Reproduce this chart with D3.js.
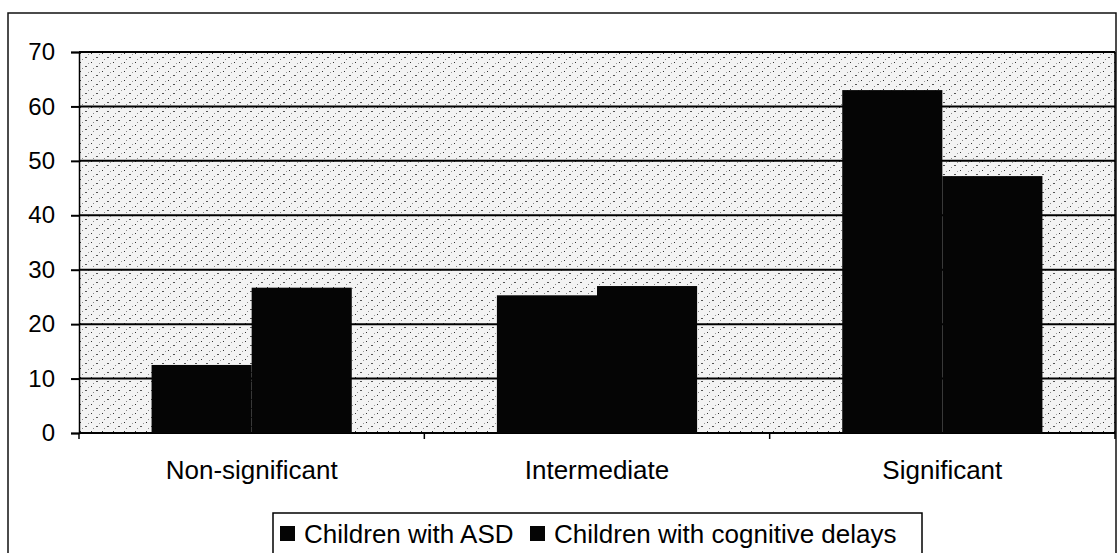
<!DOCTYPE html>
<html>
<head>
<meta charset="utf-8">
<script src="https://cdn.jsdelivr.net/npm/d3@7"></script>
<style>
  body { margin: 0; background: #fff; }
  svg text { font-family: Arial, "Liberation Sans", sans-serif; }
</style>
</head>
<body>
<svg id="chart" width="1118" height="553"></svg>
<script>
const categories = ["Non-significant", "Intermediate", "Significant"];
const seriesNames = ["Children with ASD", "Children with cognitive delays"];
const asdValues = [12.5, 25.3, 63];
const cogValues = [26.7, 27, 47.2];
const yTicks = [0, 10, 20, 30, 40, 50, 60, 70];

const margin = { top: 52, right: 3, bottom: 120, left: 79 };
const width = 1118 - margin.left - margin.right;
const height = 553 - margin.top - margin.bottom;

const svg = d3.select("#chart");

// outer frame
svg.append("rect")
    .attr("x", 8).attr("y", 13)
    .attr("width", 1108).attr("height", 560)
    .attr("fill", "none")
    .attr("stroke", "#111")
    .attr("stroke-width", 1.5);

// stipple pattern for plot area
const defs = svg.append("defs");
const pat = defs.append("pattern")
    .attr("id", "stipple")
    .attr("patternUnits", "userSpaceOnUse")
    .attr("width", 11).attr("height", 9);
pat.append("rect").attr("width", 11).attr("height", 9).attr("fill", "#f3f3f3");
pat.append("rect").attr("x", 1).attr("y", 1).attr("width", 1).attr("height", 1).attr("fill", "#333");
pat.append("rect").attr("x", 6).attr("y", 5).attr("width", 2).attr("height", 1).attr("fill", "#555");
pat.append("rect").attr("x", 9).attr("y", 2).attr("width", 1).attr("height", 1).attr("fill", "#999");
pat.append("rect").attr("x", 3).attr("y", 7).attr("width", 1).attr("height", 1).attr("fill", "#888");

const g = svg.append("g")
    .attr("transform", `translate(${margin.left}, ${margin.top})`);

const x0 = d3.scaleBand()
    .domain(categories)
    .range([0, width])
    .paddingInner(0)
    .paddingOuter(0);

const x1 = d3.scaleBand()
    .domain(seriesNames)
    .range([0, x0.bandwidth()])
    .paddingOuter(0.725)
    .paddingInner(0);

const y = d3.scaleLinear()
    .domain([0, 70])
    .range([height, 0]);

g.append("rect")
    .attr("width", width)
    .attr("height", height)
    .attr("fill", "url(#stipple)");

// gridlines
g.append("g")
    .selectAll("line")
    .data(yTicks)
    .enter().append("line")
    .attr("x1", 0).attr("x2", width)
    .attr("y1", d => y(d)).attr("y2", d => y(d))
    .attr("stroke", "#000")
    .attr("stroke-width", 2);

// right border
g.append("line")
    .attr("x1", width).attr("x2", width)
    .attr("y1", 0).attr("y2", height)
    .attr("stroke", "#000").attr("stroke-width", 1.5);

// bars
const rows = categories.map((c, i) => ({ cat: c, vals: [asdValues[i], cogValues[i]] }));
const grp = g.selectAll(".cat")
    .data(rows)
    .enter().append("g")
    .attr("transform", d => `translate(${x0(d.cat)}, 0)`);

grp.selectAll("rect")
    .data(d => d.vals.map((v, j) => ({ key: seriesNames[j], v })))
    .enter().append("rect")
    .attr("x", d => x1(d.key))
    .attr("y", d => y(d.v))
    .attr("width", x1.bandwidth())
    .attr("height", d => height - y(d.v))
    .attr("fill", "#050505");

// y axis
const yAxis = g.append("g")
    .call(d3.axisLeft(y).tickValues(yTicks).tickSize(8).tickPadding(16));
yAxis.attr("font-family", null).attr("font-size", null);
yAxis.select(".domain").attr("stroke", "#000").attr("stroke-width", 1.5);
yAxis.selectAll(".tick line").attr("stroke", "#000").attr("stroke-width", 2);
yAxis.selectAll("text")
    .style("font-size", "24px")
    .attr("fill", "#000");

// x axis
const xAxis = g.append("g")
    .attr("transform", `translate(0, ${height})`)
    .call(d3.axisBottom(x0).tickSize(0).tickPadding(28));
xAxis.attr("font-family", null).attr("font-size", null);
xAxis.select(".domain").remove();
xAxis.selectAll("text")
    .style("font-size", "26px")
    .attr("fill", "#000");

// category boundary ticks
g.append("g")
    .selectAll("line")
    .data(categories.concat(["end"]))
    .enter().append("line")
    .attr("x1", (d, i) => i < categories.length ? x0(d) : width)
    .attr("x2", (d, i) => i < categories.length ? x0(d) : width)
    .attr("y1", height).attr("y2", height + 6)
    .attr("stroke", "#000").attr("stroke-width", 1.5);

// legend
const legend = svg.append("g").attr("transform", "translate(273, 513)");
legend.append("rect")
    .attr("width", 649).attr("height", 50)
    .attr("fill", "#fff")
    .attr("stroke", "#000").attr("stroke-width", 1.5);

const itemX = [7, 257];
seriesNames.forEach((name, i) => {
    legend.append("rect")
        .attr("x", itemX[i]).attr("y", 13)
        .attr("width", 15).attr("height", 15)
        .attr("fill", "#050505");
    legend.append("text")
        .attr("x", itemX[i] + 24).attr("y", 30)
        .style("font-size", "26px")
        .text(name);
});
</script>
</body>
</html>
